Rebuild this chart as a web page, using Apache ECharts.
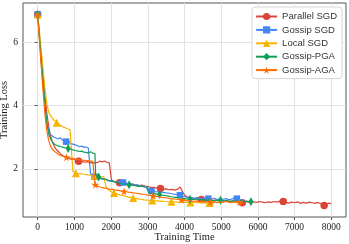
<!DOCTYPE html>
<html><head><meta charset="utf-8">
<script src="https://cdn.jsdelivr.net/npm/echarts@6/dist/echarts.min.js"></script>
<style>html,body{margin:0;padding:0;background:#fff}#c{width:349px;height:244px}</style>
</head><body><div id="c"></div>
<script>
const seriesNames = ['Parallel SGD','Gossip SGD','Local SGD','Gossip-PGA','Gossip-AGA'];
const xTicks = [0,1000,2000,3000,4000,5000,6000,7000,8000];
const yTicks = [2,4,6];
const markEvery = [1115, 775, 520, 830, 785];

const parallelSGD = [[0,6.88],[50,6.2],[100,5.5],[150,4.9],[200,4.3],[250,3.75],[300,3.35],[350,3.05],[400,2.85],[450,2.72],[500,2.62],[560,2.55],[620,2.48],[680,2.42],[740,2.38],[800,2.36],[860,2.33],[920,2.30],[980,2.31],[1040,2.27],[1115,2.24],[1180,2.25],[1240,2.22],[1300,2.21],[1360,2.23],[1420,2.19],[1480,2.20],[1520,2.18],[1580,2.19],[1640,2.21],[1700,2.25],[1760,2.22],[1820,2.25],[1880,2.21],[1950,2.19],[2000,2.17],[2010,1.65],[2060,1.62],[2120,1.58],[2180,1.60],[2230,1.56],[2300,1.55],[2380,1.57],[2450,1.52],[2520,1.50],[2600,1.52],[2680,1.48],[2760,1.47],[2840,1.49],[2920,1.46],[3000,1.45],[3080,1.41],[3160,1.42],[3240,1.39],[3345,1.38],[3420,1.36],[3500,1.37],[3580,1.34],[3660,1.35],[3740,1.33],[3820,1.36],[3880,1.43],[3920,1.38],[3960,1.25],[4000,1.18],[4060,1.12],[4120,1.10],[4200,1.08],[4280,1.06],[4360,1.05],[4460,1.03],[4540,1.04],[4620,1.02],[4700,1.03],[4780,1.00],[4860,1.02],[4940,0.99],[5020,1.01],[5100,0.98],[5180,1.00],[5260,0.97],[5340,0.99],[5420,0.96],[5500,0.98],[5575,0.93],[5650,0.97],[5730,0.95],[5810,0.98],[5880,0.96],[5960,0.94],[6040,0.97],[6120,0.95],[6200,0.93],[6280,0.96],[6360,0.94],[6440,0.97],[6520,0.95],[6600,0.98],[6690,0.97],[6760,0.94],[6840,0.92],[6920,0.95],[7000,0.93],[7080,0.96],[7160,0.91],[7240,0.94],[7320,0.92],[7400,0.95],[7480,0.93],[7560,0.91],[7640,0.94],[7720,0.90],[7805,0.84],[7880,0.88],[7940,0.92],[8000,0.90]];

const gossipSGD = [[0,6.88],[50,6.1],[100,5.3],[150,4.6],[200,3.95],[250,3.45],[300,3.2],[350,3.08],[400,3.1],[450,3.0],[500,3.05],[560,2.95],[620,2.98],[680,2.90],[740,2.92],[775,2.86],[840,2.88],[900,2.80],[960,2.78],[1020,2.76],[1080,2.74],[1140,2.70],[1200,2.72],[1260,2.68],[1320,2.69],[1380,2.66],[1420,2.60],[1440,1.85],[1500,1.80],[1550,1.75],[1620,1.72],[1700,1.70],[1780,1.67],[1850,1.68],[1920,1.62],[2000,1.63],[2080,1.60],[2160,1.58],[2240,1.60],[2325,1.57],[2400,1.55],[2480,1.52],[2560,1.53],[2640,1.48],[2720,1.50],[2800,1.45],[2880,1.46],[2960,1.42],[3000,1.32],[3100,1.30],[3200,1.28],[3300,1.27],[3400,1.26],[3500,1.24],[3600,1.23],[3700,1.20],[3800,1.19],[3875,1.17],[3950,1.13],[4030,1.12],[4110,1.08],[4190,1.10],[4270,1.07],[4350,1.09],[4430,1.06],[4510,1.08],[4580,1.05],[4650,1.06],[4730,1.04],[4810,1.07],[4890,1.03],[4970,1.05],[5050,1.04],[5130,1.06],[5210,1.02],[5290,1.05],[5370,1.07],[5425,1.06],[5500,1.03],[5580,1.02],[5620,1.00]];

const localSGD = [[0,6.88],[50,6.3],[100,5.7],[150,5.1],[200,4.5],[250,4.05],[300,3.8],[350,3.68],[400,3.6],[460,3.52],[520,3.46],[580,3.40],[640,3.36],[700,3.32],[760,3.29],[820,3.26],[880,3.24],[930,3.22],[960,1.92],[1040,1.86],[1100,1.85],[1180,1.84],[1260,1.83],[1340,1.82],[1420,1.80],[1480,1.79],[1560,1.78],[1640,1.77],[1720,1.76],[1800,1.75],[1840,1.74],[1860,1.45],[1920,1.35],[2000,1.28],[2080,1.24],[2160,1.21],[2240,1.18],[2320,1.16],[2400,1.13],[2480,1.11],[2600,1.08],[2700,1.06],[2800,1.04],[2900,1.02],[3000,1.01],[3120,1.00],[3240,0.99],[3360,0.98],[3480,0.97],[3640,0.96],[3760,0.96],[3880,0.95],[4000,0.94],[4160,0.94],[4300,0.93],[4450,0.93],[4600,0.92],[4680,0.92],[4800,0.91]];

const gossipPGA = [[0,6.88],[50,6.15],[100,5.4],[150,4.7],[200,4.0],[250,3.45],[300,3.1],[350,2.95],[400,2.85],[460,2.78],[520,2.74],[580,2.72],[640,2.70],[700,2.68],[760,2.66],[830,2.64],[900,2.63],[960,2.60],[1020,2.58],[1080,2.57],[1140,2.55],[1200,2.56],[1260,2.53],[1320,2.52],[1380,2.50],[1440,2.54],[1500,2.50],[1560,2.48],[1580,1.80],[1660,1.74],[1740,1.70],[1820,1.68],[1900,1.65],[1980,1.62],[2060,1.60],[2140,1.57],[2220,1.55],[2300,1.53],[2400,1.51],[2490,1.50],[2580,1.48],[2660,1.47],[2740,1.45],[2820,1.46],[2900,1.43],[2980,1.42],[3020,1.25],[3100,1.23],[3180,1.22],[3250,1.20],[3320,1.19],[3400,1.17],[3480,1.16],[3560,1.14],[3640,1.12],[3720,1.11],[3800,1.09],[3880,1.08],[3960,1.07],[4050,1.05],[4150,1.04],[4240,1.03],[4330,1.05],[4420,1.02],[4500,1.03],[4580,1.00],[4660,1.02],[4740,1.01],[4820,0.99],[4900,1.00],[4980,1.01],[5060,0.98],[5140,1.00],[5220,0.97],[5300,0.99],[5380,0.98],[5460,0.96],[5540,0.99],[5620,0.97],[5700,0.98],[5810,0.96]];

const gossipAGA = [[0,6.88],[50,6.0],[100,5.2],[150,4.4],[200,3.7],[250,3.2],[300,2.9],[350,2.72],[400,2.62],[460,2.55],[520,2.50],[580,2.45],[640,2.42],[700,2.40],[785,2.37],[860,2.35],[940,2.33],[1020,2.31],[1100,2.30],[1180,2.28],[1260,2.27],[1340,2.26],[1420,2.25],[1500,2.24],[1540,2.22],[1560,1.55],[1570,1.50],[1640,1.45],[1720,1.42],[1800,1.40],[1880,1.38],[1960,1.36],[2040,1.35],[2120,1.33],[2200,1.32],[2280,1.30],[2355,1.29],[2440,1.27],[2520,1.26],[2600,1.24],[2680,1.23],[2760,1.22],[2840,1.20],[2920,1.19],[3000,1.17],[3140,1.15],[3220,1.13],[3300,1.12],[3380,1.10],[3460,1.09],[3540,1.08],[3620,1.06],[3700,1.05],[3780,1.04],[3860,1.03],[3925,1.02],[4000,1.01],[4080,0.99],[4160,1.00],[4240,0.97],[4320,0.99],[4400,0.96],[4480,0.98],[4560,0.95],[4640,0.97],[4710,0.94],[4800,0.96],[4880,0.93],[4960,0.96],[5040,0.94],[5120,0.97],[5200,0.95],[5280,0.93],[5360,0.96],[5440,0.94],[5495,0.95],[5560,0.93],[5600,0.94]];

const allData = [parallelSGD, gossipSGD, localSGD, gossipPGA, gossipAGA];
const colors = ['#DB4437','#4285F4','#F4B400','#0F9D58','#FF6D00'];
const symbols = ['circle','rect','triangle','path://M0,-1.2 L0.55,0 L0,1.2 L-0.55,0 Z','path://M50,0 L61,35 L98,35 L68,57 L79,91 L50,70 L21,91 L32,57 L2,35 L39,35 Z'];
const symSizes = [7.5,6.5,8,[5,9],8];

function markerIdx(data, step){
  const set = new Set();
  const maxX = data[data.length-1][0];
  for(let t=0;t<=maxX+1;t+=step){
    let best=0,bd=1e9;
    data.forEach((p,i)=>{const d=Math.abs(p[0]-t); if(d<bd){bd=d;best=i;}});
    set.add(best);
  }
  return set;
}

const series = allData.map((d,si)=>{
  const mk = markerIdx(d, markEvery[si]);
  return {
    name: seriesNames[si], type:'line', data:d, color: colors[si],
    symbol: symbols[si], showAllSymbol:true, showSymbol:true,
    symbolSize:(v,p)=> mk.has(p.dataIndex) ? symSizes[si] : 0,
    lineStyle:{width:1.2,color:colors[si]}, itemStyle:{color:colors[si]},
    animation:false, z: 3+si, emphasis:{disabled:true}
  };
});

const chart = echarts.init(document.getElementById('c'), null, {renderer:'canvas'});
chart.setOption({
  animation:false,
  grid:{left:23,right:3,top:3,bottom:27,show:true,borderColor:'#555',borderWidth:1,backgroundColor:'transparent',outerBoundsMode:'none',containLabel:false},
  legend:{orient:'vertical',right:7,top:7,itemWidth:21,itemHeight:9,itemGap:2.4,z:20,
    textStyle:{fontFamily:'Liberation Sans',fontSize:9.5,color:'#333',lineHeight:11},
    borderColor:'#d6d6d6',borderWidth:1,borderRadius:3,padding:[4,5,3,3],backgroundColor:'#ffffff',
    data:seriesNames},
  xAxis:[{type:'value',min:-400,max:8400,
    name:'Training Time',nameLocation:'middle',nameGap:15,nameMoveOverlap:false,
    nameTextStyle:{fontFamily:'Liberation Serif',fontSize:10.5,color:'#222'},
    axisLine:{show:false},
    axisTick:{show:true,length:3,lineStyle:{color:'#555'},customValues:xTicks},
    axisLabel:{fontFamily:'Liberation Serif',fontSize:9.5,color:'#222',margin:5,customValues:xTicks,formatter:v=>String(v)},
    splitLine:{show:false}},
    {type:'value',min:-400,max:8400,position:'bottom',show:true,
    axisLine:{show:false},axisTick:{show:false},axisLabel:{show:false},
    interval:200,
    splitLine:{show:true,showMinLine:false,showMaxLine:false,lineStyle:{color:['transparent','#e2e2e2','transparent','transparent','transparent']}}}],
  yAxis:{type:'value',min:0.48,max:7.24,
    name:'Training Loss',nameLocation:'middle',nameGap:13,nameRotate:90,nameMoveOverlap:false,
    nameTextStyle:{fontFamily:'Liberation Serif',fontSize:10.5,color:'#222'},
    axisLine:{show:false},
    axisTick:{show:true,length:3,lineStyle:{color:'#555'},customValues:yTicks},
    axisLabel:{fontFamily:'Liberation Serif',fontSize:9.5,color:'#222',margin:5,customValues:yTicks,formatter:v=>String(v)},
    splitLine:{show:true,lineStyle:{color:'#e2e2e2',width:1}}},
  series: series
});
</script></body></html>
